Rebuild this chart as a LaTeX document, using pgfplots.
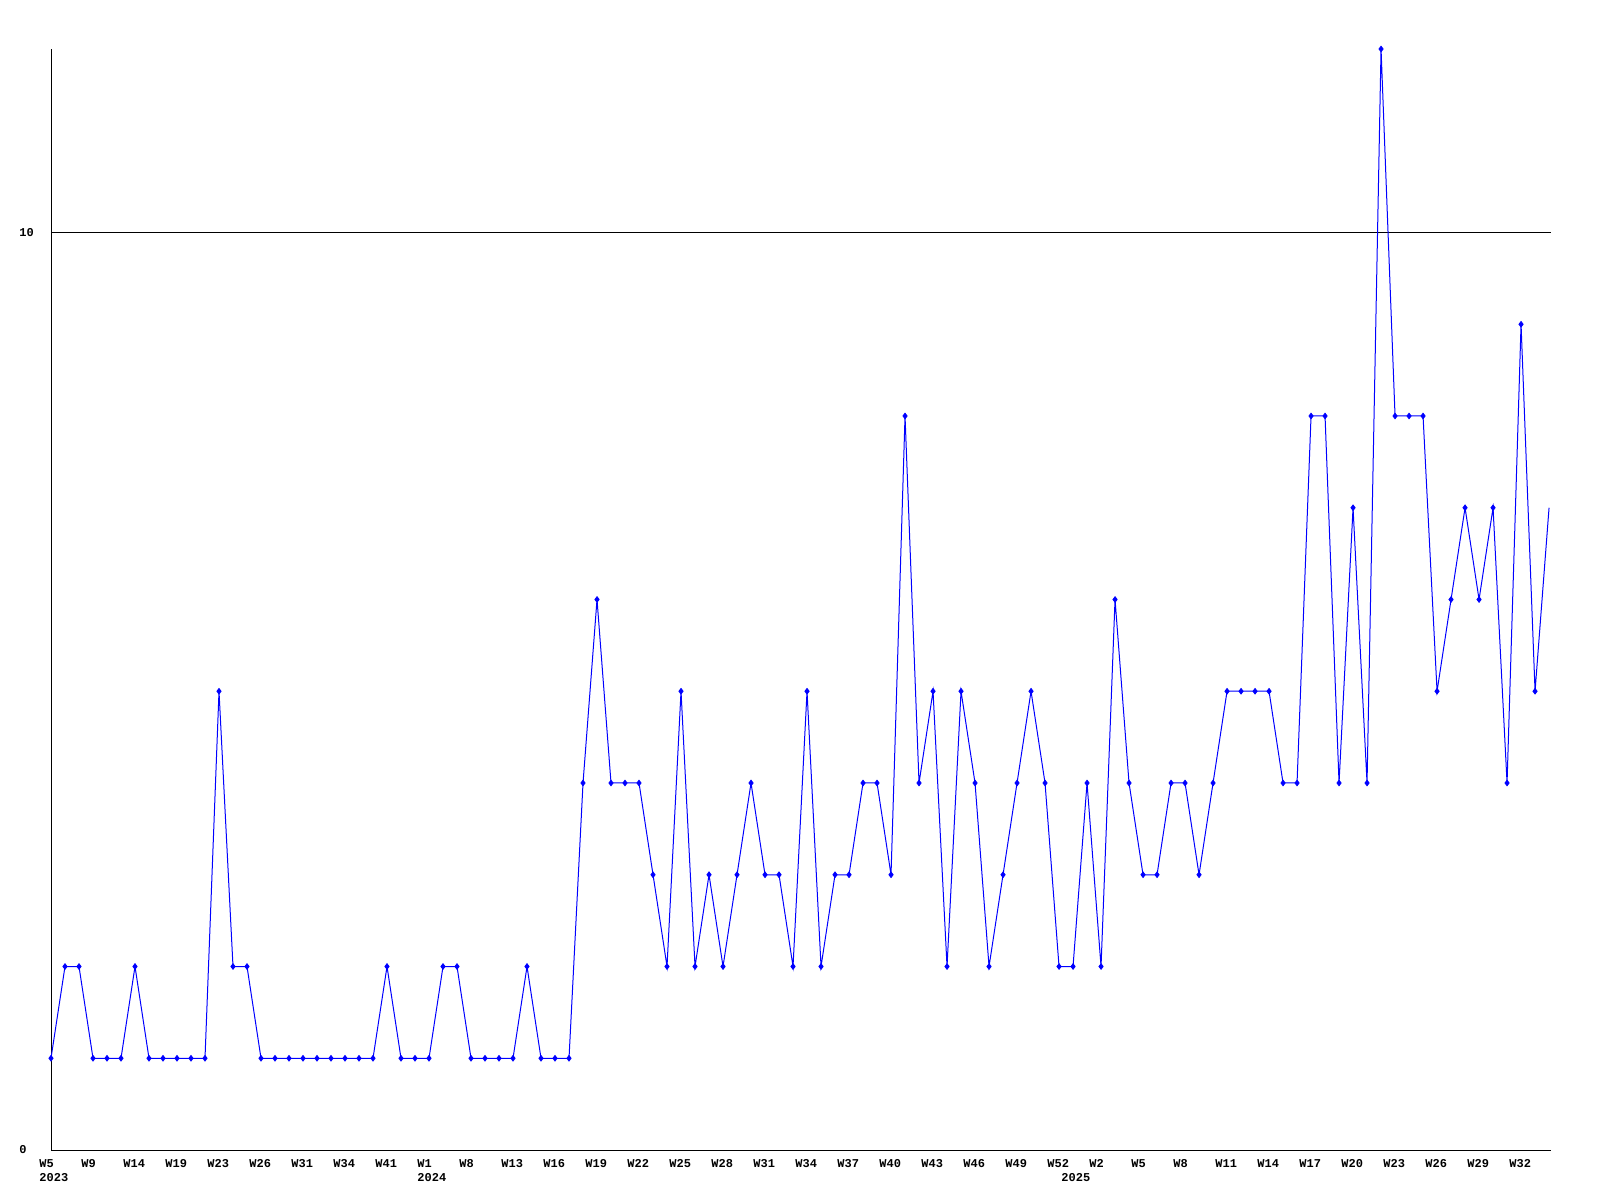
\documentclass[border=0pt]{standalone}
\usepackage{fontspec}
\usepackage{pgfplots}
\usepackage{pgfplotstable}
\pgfplotsset{compat=1.18}
\newfontfamily\labfont{Liberation Mono}
\pgfplotstableread{
x y
0 1
1 2
2 2
3 1
4 1
5 1
6 2
7 1
8 1
9 1
10 1
11 1
12 5
13 2
14 2
15 1
16 1
17 1
18 1
19 1
20 1
21 1
22 1
23 1
24 2
25 1
26 1
27 1
28 2
29 2
30 1
31 1
32 1
33 1
34 2
35 1
36 1
37 1
38 4
39 6
40 4
41 4
42 4
43 3
44 2
45 5
46 2
47 3
48 2
49 3
50 4
51 3
52 3
53 2
54 5
55 2
56 3
57 3
58 4
59 4
60 3
61 8
62 4
63 5
64 2
65 5
66 4
67 2
68 3
69 4
70 5
71 4
72 2
73 2
74 4
75 2
76 6
77 4
78 3
79 3
80 4
81 4
82 3
83 4
84 5
85 5
86 5
87 5
88 4
89 4
90 8
91 8
92 4
93 7
94 4
95 12
96 8
97 8
98 8
99 5
100 6
101 7
102 6
103 7
104 4
105 9
106 5
107 7
}\datatable
\begin{document}
\begin{tikzpicture}
\begin{axis}[
  scale only axis,
  width=750pt, height=550.5pt,
  xmin=0, xmax=107.14,
  ymin=0, ymax=12,
  axis x line=bottom, axis y line=left,
  axis line style={-, black, line width=0.5pt},
  major tick length=0pt,
  xtick={0,3,...,105},
  xticklabels={{W5\\2023},W9,W14,W19,W23,W26,W31,W34,W41,{W1\\2024},W8,W13,W16,W19,W22,W25,W28,W31,W34,W37,W40,W43,W46,W49,W52,W2,W5,W8,W11,W14,W17,W20,W23,W26,W29,W32},
  xticklabel style={anchor=north west, xshift=-6pt, yshift=-4.5pt, inner sep=0pt, align=left, font=\labfont\bfseries\fontsize{6}{7}\selectfont},
  extra x ticks={73},
  extra x tick labels={2025},
  extra x tick style={major tick length=0pt, xticklabel style={yshift=-7pt}},
  ytick={0,10},
  yticklabels={0,10},
  yticklabel style={anchor=west, xshift=-16pt, inner sep=0pt, font=\labfont\bfseries\fontsize{6}{7}\selectfont},
  ymajorgrids,
  grid style={black, line width=0.5pt},
  clip=false,
]
\addplot[color={rgb,255:red,0;green,0;blue,255}, line width=0.5pt, mark=none] table[x=x,y=y] {\datatable};
\addplot[only marks, mark=diamond*, mark size=1.4pt, color={rgb,255:red,0;green,0;blue,255}, restrict x to domain=0:106] table[x=x,y=y] {\datatable};
\end{axis}
\pgfresetboundingbox
\path ([xshift=-25.5pt,yshift=-25pt]current axis.south west) rectangle ([xshift=24.5pt,yshift=24.5pt]current axis.north east);
\end{tikzpicture}
\end{document}
